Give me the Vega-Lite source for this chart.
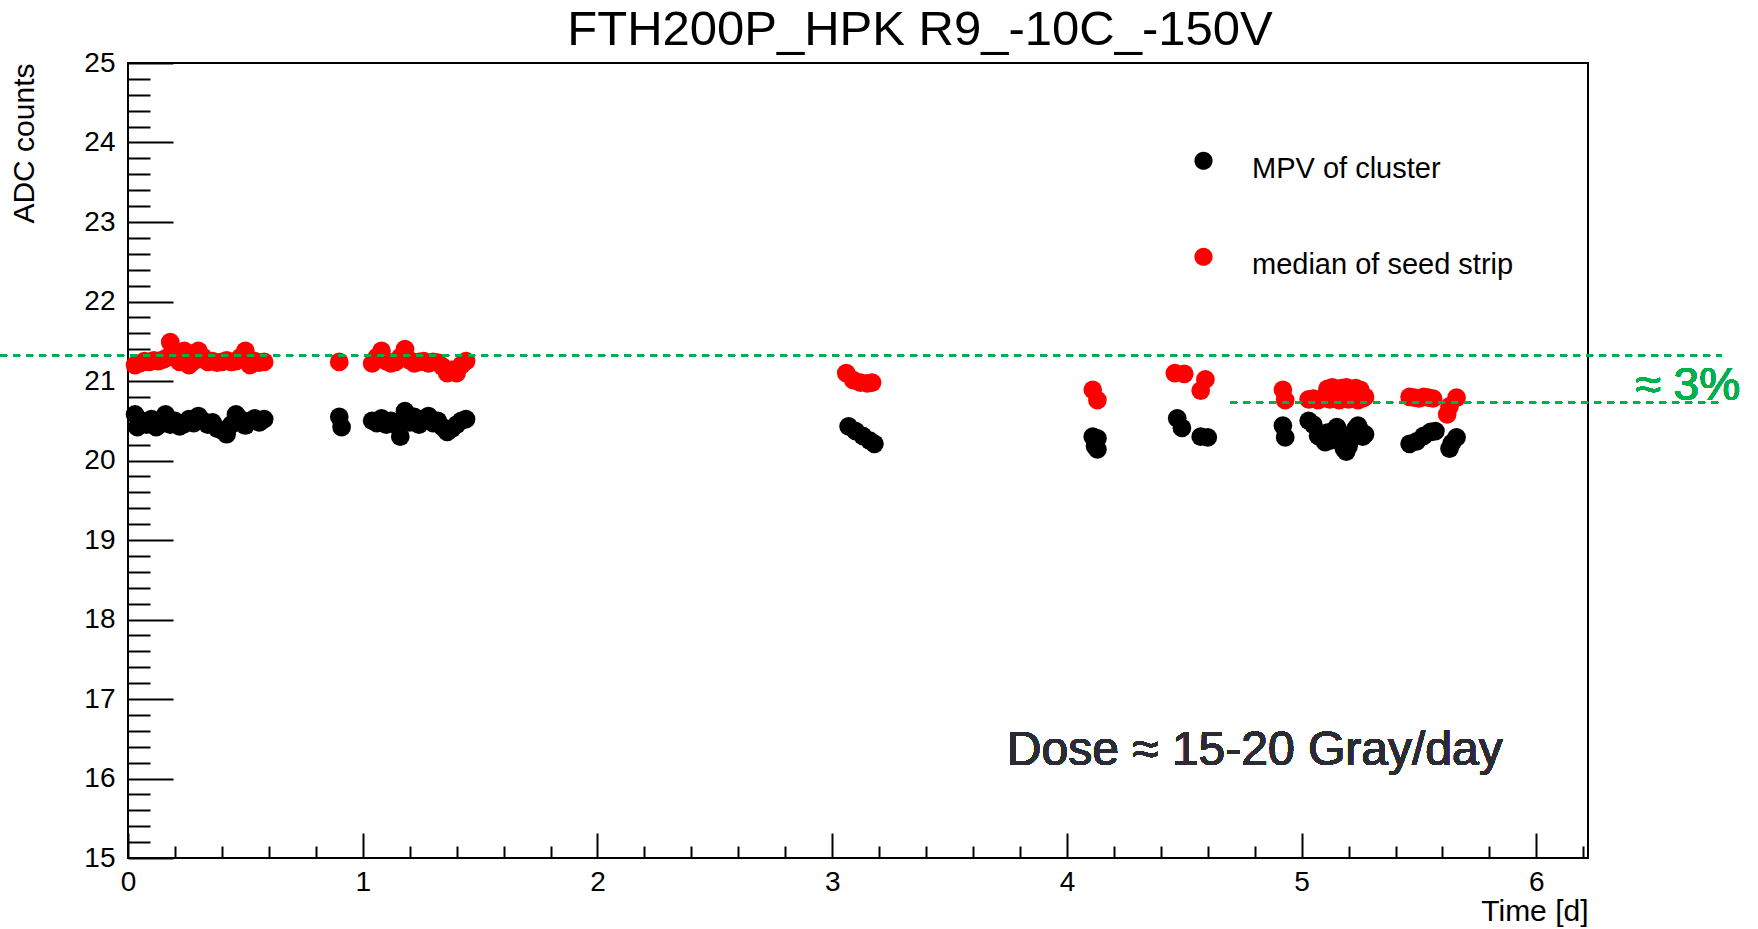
{
"$schema": "https://vega.github.io/schema/vega-lite/v6.json",
"width": 1460, "height": 795,
"autosize": "none",
"padding": {"left": 128, "top": 63, "right": 170, "bottom": 71},
"background": "white",
"config": {"font": "Liberation Sans", "view": {"stroke": "black", "strokeWidth": 2}, "axis": {"grid": false}},
"title": {"text": "FTH200P_HPK R9_-10C_-150V", "fontSize": 49, "font": "Liberation Sans", "fontWeight": "normal", "color": "black", "anchor": "middle", "frame": "group", "dx": 62, "offset": -6},
"datasets": {"pts": [
{"t":0.03,"v":20.58,"s":"MPV of cluster"},{"t":0.04,"v":20.42,"s":"MPV of cluster"},{"t":0.06,"v":20.50,"s":"MPV of cluster"},{"t":0.08,"v":20.45,"s":"MPV of cluster"},{"t":0.10,"v":20.52,"s":"MPV of cluster"},{"t":0.12,"v":20.42,"s":"MPV of cluster"},{"t":0.14,"v":20.46,"s":"MPV of cluster"},{"t":0.16,"v":20.58,"s":"MPV of cluster"},{"t":0.18,"v":20.45,"s":"MPV of cluster"},{"t":0.20,"v":20.50,"s":"MPV of cluster"},{"t":0.22,"v":20.43,"s":"MPV of cluster"},{"t":0.24,"v":20.46,"s":"MPV of cluster"},{"t":0.26,"v":20.52,"s":"MPV of cluster"},{"t":0.28,"v":20.47,"s":"MPV of cluster"},{"t":0.30,"v":20.56,"s":"MPV of cluster"},{"t":0.32,"v":20.50,"s":"MPV of cluster"},{"t":0.34,"v":20.45,"s":"MPV of cluster"},{"t":0.36,"v":20.48,"s":"MPV of cluster"},{"t":0.38,"v":20.40,"s":"MPV of cluster"},{"t":0.40,"v":20.38,"s":"MPV of cluster"},{"t":0.42,"v":20.33,"s":"MPV of cluster"},{"t":0.44,"v":20.45,"s":"MPV of cluster"},{"t":0.46,"v":20.58,"s":"MPV of cluster"},{"t":0.48,"v":20.52,"s":"MPV of cluster"},{"t":0.50,"v":20.44,"s":"MPV of cluster"},{"t":0.52,"v":20.50,"s":"MPV of cluster"},{"t":0.54,"v":20.53,"s":"MPV of cluster"},{"t":0.56,"v":20.48,"s":"MPV of cluster"},{"t":0.58,"v":20.52,"s":"MPV of cluster"},
{"t":0.90,"v":20.55,"s":"MPV of cluster"},{"t":0.91,"v":20.42,"s":"MPV of cluster"},
{"t":1.04,"v":20.50,"s":"MPV of cluster"},{"t":1.06,"v":20.47,"s":"MPV of cluster"},{"t":1.08,"v":20.53,"s":"MPV of cluster"},{"t":1.10,"v":20.45,"s":"MPV of cluster"},{"t":1.12,"v":20.50,"s":"MPV of cluster"},{"t":1.14,"v":20.45,"s":"MPV of cluster"},{"t":1.16,"v":20.30,"s":"MPV of cluster"},{"t":1.18,"v":20.62,"s":"MPV of cluster"},{"t":1.20,"v":20.48,"s":"MPV of cluster"},{"t":1.22,"v":20.55,"s":"MPV of cluster"},{"t":1.24,"v":20.45,"s":"MPV of cluster"},{"t":1.26,"v":20.50,"s":"MPV of cluster"},{"t":1.28,"v":20.56,"s":"MPV of cluster"},{"t":1.30,"v":20.47,"s":"MPV of cluster"},{"t":1.32,"v":20.50,"s":"MPV of cluster"},{"t":1.34,"v":20.42,"s":"MPV of cluster"},{"t":1.36,"v":20.36,"s":"MPV of cluster"},{"t":1.38,"v":20.40,"s":"MPV of cluster"},{"t":1.40,"v":20.45,"s":"MPV of cluster"},{"t":1.42,"v":20.50,"s":"MPV of cluster"},{"t":1.44,"v":20.52,"s":"MPV of cluster"},
{"t":3.07,"v":20.43,"s":"MPV of cluster"},{"t":3.10,"v":20.37,"s":"MPV of cluster"},{"t":3.13,"v":20.31,"s":"MPV of cluster"},{"t":3.16,"v":20.25,"s":"MPV of cluster"},{"t":3.18,"v":20.21,"s":"MPV of cluster"},
{"t":4.11,"v":20.30,"s":"MPV of cluster"},{"t":4.13,"v":20.28,"s":"MPV of cluster"},{"t":4.12,"v":20.18,"s":"MPV of cluster"},{"t":4.13,"v":20.14,"s":"MPV of cluster"},
{"t":4.47,"v":20.53,"s":"MPV of cluster"},{"t":4.49,"v":20.41,"s":"MPV of cluster"},{"t":4.57,"v":20.30,"s":"MPV of cluster"},{"t":4.60,"v":20.29,"s":"MPV of cluster"},
{"t":4.92,"v":20.44,"s":"MPV of cluster"},{"t":4.93,"v":20.29,"s":"MPV of cluster"},
{"t":5.03,"v":20.50,"s":"MPV of cluster"},{"t":5.05,"v":20.45,"s":"MPV of cluster"},{"t":5.07,"v":20.31,"s":"MPV of cluster"},{"t":5.09,"v":20.28,"s":"MPV of cluster"},{"t":5.10,"v":20.23,"s":"MPV of cluster"},{"t":5.11,"v":20.35,"s":"MPV of cluster"},{"t":5.12,"v":20.25,"s":"MPV of cluster"},{"t":5.13,"v":20.30,"s":"MPV of cluster"},{"t":5.14,"v":20.38,"s":"MPV of cluster"},{"t":5.15,"v":20.42,"s":"MPV of cluster"},{"t":5.16,"v":20.30,"s":"MPV of cluster"},{"t":5.17,"v":20.22,"s":"MPV of cluster"},{"t":5.18,"v":20.15,"s":"MPV of cluster"},{"t":5.19,"v":20.11,"s":"MPV of cluster"},{"t":5.20,"v":20.18,"s":"MPV of cluster"},{"t":5.21,"v":20.27,"s":"MPV of cluster"},{"t":5.22,"v":20.35,"s":"MPV of cluster"},{"t":5.23,"v":20.40,"s":"MPV of cluster"},{"t":5.24,"v":20.44,"s":"MPV of cluster"},{"t":5.25,"v":20.38,"s":"MPV of cluster"},{"t":5.26,"v":20.30,"s":"MPV of cluster"},{"t":5.27,"v":20.33,"s":"MPV of cluster"},
{"t":5.46,"v":20.21,"s":"MPV of cluster"},{"t":5.49,"v":20.24,"s":"MPV of cluster"},{"t":5.52,"v":20.31,"s":"MPV of cluster"},{"t":5.55,"v":20.36,"s":"MPV of cluster"},{"t":5.57,"v":20.37,"s":"MPV of cluster"},{"t":5.63,"v":20.15,"s":"MPV of cluster"},{"t":5.64,"v":20.22,"s":"MPV of cluster"},{"t":5.66,"v":20.29,"s":"MPV of cluster"},
{"t":0.03,"v":21.20,"s":"median of seed strip"},{"t":0.05,"v":21.22,"s":"median of seed strip"},{"t":0.07,"v":21.25,"s":"median of seed strip"},{"t":0.09,"v":21.24,"s":"median of seed strip"},{"t":0.11,"v":21.26,"s":"median of seed strip"},{"t":0.13,"v":21.25,"s":"median of seed strip"},{"t":0.15,"v":21.27,"s":"median of seed strip"},{"t":0.17,"v":21.30,"s":"median of seed strip"},{"t":0.18,"v":21.49,"s":"median of seed strip"},{"t":0.20,"v":21.32,"s":"median of seed strip"},{"t":0.22,"v":21.24,"s":"median of seed strip"},{"t":0.24,"v":21.38,"s":"median of seed strip"},{"t":0.26,"v":21.20,"s":"median of seed strip"},{"t":0.28,"v":21.25,"s":"median of seed strip"},{"t":0.30,"v":21.38,"s":"median of seed strip"},{"t":0.32,"v":21.30,"s":"median of seed strip"},{"t":0.34,"v":21.24,"s":"median of seed strip"},{"t":0.36,"v":21.25,"s":"median of seed strip"},{"t":0.38,"v":21.23,"s":"median of seed strip"},{"t":0.40,"v":21.24,"s":"median of seed strip"},{"t":0.42,"v":21.26,"s":"median of seed strip"},{"t":0.44,"v":21.24,"s":"median of seed strip"},{"t":0.46,"v":21.25,"s":"median of seed strip"},{"t":0.48,"v":21.30,"s":"median of seed strip"},{"t":0.50,"v":21.38,"s":"median of seed strip"},{"t":0.52,"v":21.20,"s":"median of seed strip"},{"t":0.54,"v":21.25,"s":"median of seed strip"},{"t":0.56,"v":21.23,"s":"median of seed strip"},{"t":0.58,"v":21.24,"s":"median of seed strip"},
{"t":0.90,"v":21.24,"s":"median of seed strip"},
{"t":1.04,"v":21.22,"s":"median of seed strip"},{"t":1.06,"v":21.30,"s":"median of seed strip"},{"t":1.08,"v":21.38,"s":"median of seed strip"},{"t":1.10,"v":21.25,"s":"median of seed strip"},{"t":1.12,"v":21.22,"s":"median of seed strip"},{"t":1.14,"v":21.24,"s":"median of seed strip"},{"t":1.16,"v":21.30,"s":"median of seed strip"},{"t":1.18,"v":21.40,"s":"median of seed strip"},{"t":1.20,"v":21.26,"s":"median of seed strip"},{"t":1.22,"v":21.22,"s":"median of seed strip"},{"t":1.24,"v":21.24,"s":"median of seed strip"},{"t":1.26,"v":21.25,"s":"median of seed strip"},{"t":1.28,"v":21.22,"s":"median of seed strip"},{"t":1.30,"v":21.24,"s":"median of seed strip"},{"t":1.32,"v":21.23,"s":"median of seed strip"},{"t":1.34,"v":21.18,"s":"median of seed strip"},{"t":1.36,"v":21.10,"s":"median of seed strip"},{"t":1.38,"v":21.14,"s":"median of seed strip"},{"t":1.40,"v":21.10,"s":"median of seed strip"},{"t":1.42,"v":21.20,"s":"median of seed strip"},{"t":1.44,"v":21.25,"s":"median of seed strip"},
{"t":3.06,"v":21.10,"s":"median of seed strip"},{"t":3.09,"v":21.01,"s":"median of seed strip"},{"t":3.12,"v":20.98,"s":"median of seed strip"},{"t":3.15,"v":20.97,"s":"median of seed strip"},{"t":3.17,"v":20.98,"s":"median of seed strip"},
{"t":4.11,"v":20.89,"s":"median of seed strip"},{"t":4.13,"v":20.76,"s":"median of seed strip"},
{"t":4.46,"v":21.10,"s":"median of seed strip"},{"t":4.50,"v":21.09,"s":"median of seed strip"},{"t":4.57,"v":20.88,"s":"median of seed strip"},{"t":4.59,"v":21.02,"s":"median of seed strip"},
{"t":4.92,"v":20.89,"s":"median of seed strip"},{"t":4.93,"v":20.76,"s":"median of seed strip"},
{"t":5.03,"v":20.77,"s":"median of seed strip"},{"t":5.05,"v":20.78,"s":"median of seed strip"},{"t":5.07,"v":20.76,"s":"median of seed strip"},{"t":5.09,"v":20.78,"s":"median of seed strip"},{"t":5.10,"v":20.80,"s":"median of seed strip"},{"t":5.11,"v":20.90,"s":"median of seed strip"},{"t":5.12,"v":20.77,"s":"median of seed strip"},{"t":5.13,"v":20.92,"s":"median of seed strip"},{"t":5.14,"v":20.78,"s":"median of seed strip"},{"t":5.15,"v":20.90,"s":"median of seed strip"},{"t":5.16,"v":20.76,"s":"median of seed strip"},{"t":5.17,"v":20.91,"s":"median of seed strip"},{"t":5.18,"v":20.78,"s":"median of seed strip"},{"t":5.19,"v":20.92,"s":"median of seed strip"},{"t":5.20,"v":20.77,"s":"median of seed strip"},{"t":5.21,"v":20.90,"s":"median of seed strip"},{"t":5.22,"v":20.78,"s":"median of seed strip"},{"t":5.23,"v":20.91,"s":"median of seed strip"},{"t":5.24,"v":20.76,"s":"median of seed strip"},{"t":5.25,"v":20.89,"s":"median of seed strip"},{"t":5.26,"v":20.78,"s":"median of seed strip"},{"t":5.27,"v":20.80,"s":"median of seed strip"},
{"t":5.46,"v":20.80,"s":"median of seed strip"},{"t":5.48,"v":20.79,"s":"median of seed strip"},{"t":5.50,"v":20.78,"s":"median of seed strip"},{"t":5.52,"v":20.80,"s":"median of seed strip"},{"t":5.54,"v":20.79,"s":"median of seed strip"},{"t":5.56,"v":20.78,"s":"median of seed strip"},{"t":5.62,"v":20.58,"s":"median of seed strip"},{"t":5.63,"v":20.68,"s":"median of seed strip"},{"t":5.66,"v":20.79,"s":"median of seed strip"}
]},
"data": {"name": "pts"},
"layer": [
{"mark": {"type": "point", "filled": true, "opacity": 1, "size": 350, "shape": "circle", "strokeWidth": 0},
 "encoding": {
  "x": {"field": "t", "type": "quantitative", "scale": {"domain": [0, 6.22], "nice": false, "zero": false},
        "axis": {"orient": "bottom", "values": [0,1,2,3,4,5,6], "ticks": false, "domain": false, "labelFontSize": 28, "labelFont": "Liberation Sans", "labelColor": "black", "labelPadding": 10, "labelFlush": false, "labelOverlap": false, "title": "Time [d]", "titleAnchor": "end", "titleFontSize": 30, "titleFont": "Liberation Sans", "titleFontWeight": "normal", "titleColor": "black", "titlePadding": 0}},
  "y": {"field": "v", "type": "quantitative", "scale": {"domain": [15, 25], "nice": false, "zero": false},
        "axis": {"orient": "left", "values": [15,16,17,18,19,20,21,22,23,24,25], "ticks": false, "domain": false, "labelFontSize": 28, "labelFont": "Liberation Sans", "labelColor": "black", "labelPadding": 13, "labelFlush": false, "labelOverlap": false, "title": "ADC counts", "titleAnchor": "end", "titleFontSize": 30, "titleFont": "Liberation Sans", "titleFontWeight": "normal", "titleColor": "black", "titlePadding": 44}},
  "color": {"field": "s", "type": "nominal", "scale": {"domain": ["MPV of cluster", "median of seed strip"], "range": ["#000000", "#ff0000"]},
        "legend": {"orient": "none", "legendX": 1061, "legendY": 91, "title": null, "padding": 0, "labelFontSize": 29, "labelFont": "Liberation Sans", "labelColor": "black", "symbolSize": 330, "symbolType": "M -1 -0.85 A 1 1 0 1 0 1 -0.85 A 1 1 0 1 0 -1 -0.85 Z", "symbolStrokeWidth": 0, "rowPadding": 63, "labelOffset": 34, "labelLimit": 600}}
 }},
{"mark": {"type": "point", "opacity": 0},
 "encoding": {
  "x": {"field": "t", "type": "quantitative", "axis": {"orient": "bottom", "values": [0,1,2,3,4,5,6], "labels": false, "domain": false, "ticks": true, "tickSize": -25, "tickWidth": 2, "tickColor": "black", "title": null}},
  "y": {"field": "v", "type": "quantitative", "axis": {"orient": "left", "values": [15,16,17,18,19,20,21,22,23,24,25], "labels": false, "domain": false, "ticks": true, "tickSize": -45, "tickWidth": 2, "tickColor": "black", "title": null}}
 }},
{"mark": {"type": "point", "opacity": 0},
 "encoding": {
  "x": {"field": "t", "type": "quantitative", "axis": {"orient": "bottom", "values": [0.2,0.4,0.6,0.8,1.2,1.4,1.6,1.8,2.2,2.4,2.6,2.8,3.2,3.4,3.6,3.8,4.2,4.4,4.6,4.8,5.2,5.4,5.6,5.8,6.2], "labels": false, "domain": false, "ticks": true, "tickSize": -12, "tickWidth": 2, "tickColor": "black", "title": null}},
  "y": {"field": "v", "type": "quantitative", "axis": {"orient": "left", "values": [15.2,15.4,15.6,15.8,16.2,16.4,16.6,16.8,17.2,17.4,17.6,17.8,18.2,18.4,18.6,18.8,19.2,19.4,19.6,19.8,20.2,20.4,20.6,20.8,21.2,21.4,21.6,21.8,22.2,22.4,22.6,22.8,23.2,23.4,23.6,23.8,24.2,24.4,24.6,24.8], "labels": false, "domain": false, "ticks": true, "tickSize": -22, "tickWidth": 2, "tickColor": "black", "title": null}}
 }},
{"mark": {"type": "rule", "color": "#00b050", "strokeWidth": 1.5, "strokeDash": [7, 6], "clip": false},
 "encoding": {"x": {"datum": -0.545, "type": "quantitative", "axis": null}, "x2": {"datum": 6.79}, "y": {"datum": 21.32, "type": "quantitative", "axis": null}}},
{"mark": {"type": "rule", "color": "#00b050", "strokeWidth": 1.5, "strokeDash": [7, 6], "clip": false},
 "encoding": {"x": {"datum": 4.695, "type": "quantitative", "axis": null}, "x2": {"datum": 6.79}, "y": {"datum": 20.73, "type": "quantitative", "axis": null}}},
{"mark": {"type": "text", "text": "≈ 3%", "color": "#00b050", "fontSize": 46, "font": "Liberation Sans", "fontWeight": "normal", "align": "right", "baseline": "alphabetic", "clip": false},
 "encoding": {"x": {"datum": 6.868, "type": "quantitative", "axis": null}, "y": {"datum": 20.76, "type": "quantitative", "axis": null}}},
{"mark": {"type": "text", "text": "Dose ≈ 15-20 Gray/day", "color": "#2b2b33", "fontSize": 48, "font": "Liberation Sans", "fontWeight": "normal", "align": "left", "baseline": "alphabetic"},
 "encoding": {"x": {"datum": 3.744, "type": "quantitative", "axis": null}, "y": {"datum": 16.17, "type": "quantitative", "axis": null}}}
],
"resolve": {"axis": {"x": "independent", "y": "independent"}}
}
